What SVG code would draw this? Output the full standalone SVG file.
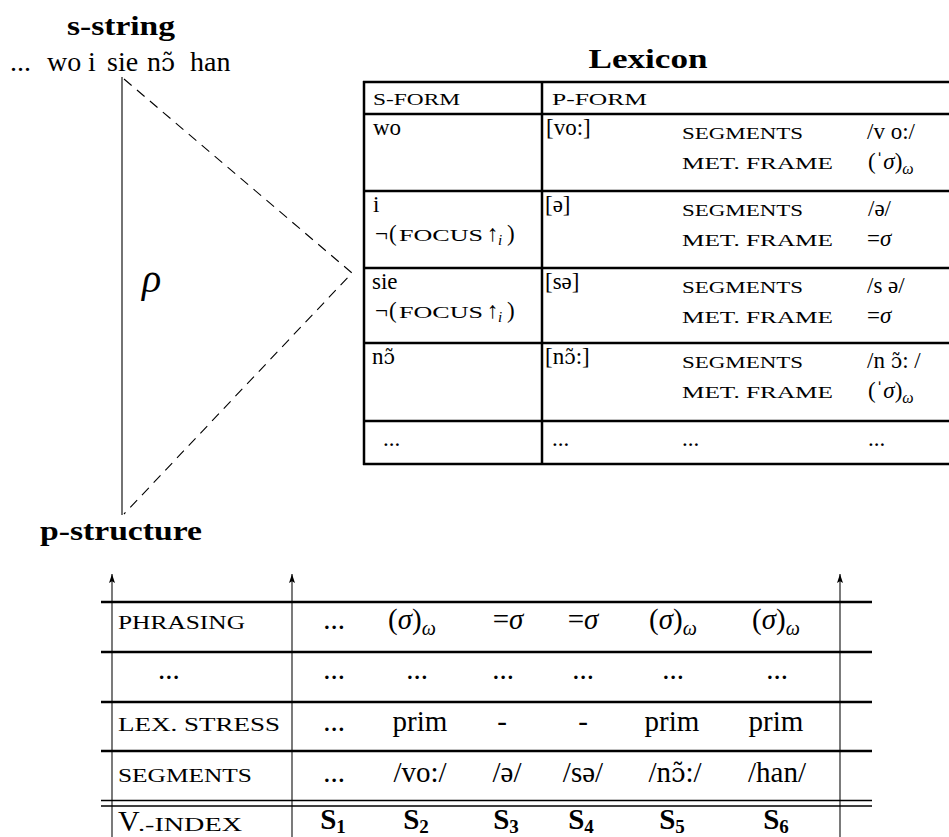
<svg xmlns="http://www.w3.org/2000/svg" width="949" height="837" viewBox="0 0 949 837">
<style>
text { font-family: "Liberation Serif", "DejaVu Serif", serif; fill: #000; }
.dv { font-family: "DejaVu Serif", serif; }
.bd { font-weight: bold; }
.it { font-style: italic; }
.lx { font-size: 23px; }
.lsc { font-size: 17px; }
.bt { font-size: 29px; }
.bsc { font-size: 19px; }
.thick { stroke: #000; stroke-width: 2.5; fill: none; }
.dbl { stroke: #000; stroke-width: 1.7; fill: none; }
.solid { stroke: #000; stroke-width: 1.1; fill: none; }
.dash { stroke: #000; stroke-width: 1.1; stroke-dasharray: 10 7; fill: none; }
.arrow { stroke: #222; stroke-width: 1.2; fill: none; marker-end: url(#ah); }
</style>
<defs>
<marker id="ah" viewBox="0 0 9 6" refX="9" refY="3" markerWidth="9" markerHeight="6" orient="auto" markerUnits="userSpaceOnUse">
<path d="M0,0 L9,3 L0,6 L1.8,3 z" fill="#000"/>
</marker>
</defs>
<rect x="0" y="0" width="949" height="837" fill="#fff"/>

<g id="s-string">
<text class="bd" x="67" y="35" font-size="28" textLength="108" lengthAdjust="spacingAndGlyphs">s-string</text>
<text font-size="28" y="71"><tspan x="10">...</tspan><tspan x="47">wo</tspan><tspan x="88">i</tspan><tspan x="107">sie</tspan><tspan x="147">n<tspan class="dv" font-size="25">ɔ̃</tspan></tspan><tspan x="190">han</tspan></text>
</g>

<g id="rho">
<text class="it" x="142" y="292" font-size="40">ρ</text>
</g>

<g id="p-structure">
<text class="bd" x="40" y="540" font-size="28" textLength="162" lengthAdjust="spacingAndGlyphs">p-structure</text>
</g>

<g id="connectors">
<line class="solid" x1="122" y1="77" x2="122" y2="515"/>
<polyline class="dash" points="124,79 352,273 124,514"/>
<line class="arrow" x1="112" y1="837" x2="112" y2="574"/>
<line class="arrow" x1="292" y1="837" x2="292" y2="574"/>
<line class="arrow" x1="840" y1="837" x2="840" y2="574"/>
</g>

<g id="lexicon">
<text class="bd" x="648" y="68" font-size="28" text-anchor="middle" textLength="119" lengthAdjust="spacingAndGlyphs">Lexicon</text>
<g class="thick">
<line x1="363" y1="82" x2="949" y2="82"/>
<line x1="363" y1="114" x2="949" y2="114"/>
<line x1="363" y1="191" x2="949" y2="191"/>
<line x1="363" y1="268" x2="949" y2="268"/>
<line x1="363" y1="343" x2="949" y2="343"/>
<line x1="363" y1="421" x2="949" y2="421"/>
<line x1="363" y1="464" x2="949" y2="464"/>
<line x1="364" y1="81" x2="364" y2="465"/>
<line x1="542" y1="81" x2="542" y2="465"/>
</g>
<text class="lsc" x="373" y="105" textLength="87" lengthAdjust="spacingAndGlyphs">S-FORM</text>
<text class="lsc" x="552" y="105" textLength="95" lengthAdjust="spacingAndGlyphs">P-FORM</text>

<text class="lx" x="373" y="135">wo</text>
<text class="lx" x="546" y="135">[vo:]</text>
<text class="lsc" x="682" y="139" textLength="121" lengthAdjust="spacingAndGlyphs">SEGMENTS</text>
<text class="lx" x="867" y="139">/v o:/</text>
<text class="lsc" x="682" y="169" textLength="151" lengthAdjust="spacingAndGlyphs">MET. FRAME</text>
<text class="lx" x="868" y="169">(ˈ<tspan class="it">σ</tspan>)<tspan class="it" font-size="16" dy="5">ω</tspan></text>

<text class="lx" x="373" y="212">i</text>
<text class="lx" x="545" y="212">[ə]</text>
<text class="lx" y="241"><tspan x="375">¬</tspan><tspan x="389">(</tspan></text>
<text class="lsc" x="399" y="241" textLength="84" lengthAdjust="spacingAndGlyphs">FOCUS</text>
<text class="lx" y="241"><tspan x="487">↑</tspan><tspan x="498" class="it" font-size="15" dy="4">i</tspan><tspan x="507" dy="-4">)</tspan></text>
<text class="lsc" x="682" y="216" textLength="121" lengthAdjust="spacingAndGlyphs">SEGMENTS</text>
<text class="lx" x="868" y="216">/ə/</text>
<text class="lsc" x="682" y="246" textLength="151" lengthAdjust="spacingAndGlyphs">MET. FRAME</text>
<text class="lx" x="867" y="246">=<tspan class="it">σ</tspan></text>

<text class="lx" x="372" y="289">sie</text>
<text class="lx" x="545" y="289">[sə]</text>
<text class="lx" y="318"><tspan x="375">¬</tspan><tspan x="389">(</tspan></text>
<text class="lsc" x="399" y="318" textLength="84" lengthAdjust="spacingAndGlyphs">FOCUS</text>
<text class="lx" y="318"><tspan x="487">↑</tspan><tspan x="498" class="it" font-size="15" dy="4">i</tspan><tspan x="507" dy="-4">)</tspan></text>
<text class="lsc" x="682" y="293" textLength="121" lengthAdjust="spacingAndGlyphs">SEGMENTS</text>
<text class="lx" x="867" y="293">/s ə/</text>
<text class="lsc" x="682" y="323" textLength="151" lengthAdjust="spacingAndGlyphs">MET. FRAME</text>
<text class="lx" x="867" y="323">=<tspan class="it">σ</tspan></text>

<text class="lx" x="372" y="364">n<tspan class="dv" font-size="20.5">ɔ̃</tspan></text>
<text class="lx" x="545" y="364">[n<tspan class="dv" font-size="20.5">ɔ̃</tspan>:]</text>
<text class="lsc" x="682" y="368" textLength="121" lengthAdjust="spacingAndGlyphs">SEGMENTS</text>
<text class="lx" x="867" y="368">/n <tspan class="dv" font-size="20.5">ɔ̃</tspan>: /</text>
<text class="lsc" x="682" y="398" textLength="151" lengthAdjust="spacingAndGlyphs">MET. FRAME</text>
<text class="lx" x="868" y="398">(ˈ<tspan class="it">σ</tspan>)<tspan class="it" font-size="16" dy="5">ω</tspan></text>

<text class="lx" x="383" y="446">...</text>
<text class="lx" x="552" y="446">...</text>
<text class="lx" x="682" y="446">...</text>
<text class="lx" x="868" y="446">...</text>
</g>

<g id="p-structure-table">
<g class="thick">
<line x1="101" y1="602" x2="872" y2="602"/>
<line x1="101" y1="652" x2="872" y2="652"/>
<line x1="101" y1="702" x2="872" y2="702"/>
<line x1="101" y1="751" x2="872" y2="751"/>
</g>
<line class="dbl" x1="101" y1="800.5" x2="872" y2="800.5"/>
<line class="dbl" x1="101" y1="806" x2="872" y2="806"/>

<text class="bsc" x="118" y="629" textLength="127" lengthAdjust="spacingAndGlyphs">PHRASING</text>
<text class="bt" x="158" y="679">...</text>
<text class="bsc" x="118" y="731" textLength="162" lengthAdjust="spacingAndGlyphs">LEX. STRESS</text>
<text class="bsc" x="118" y="782" textLength="134" lengthAdjust="spacingAndGlyphs">SEGMENTS</text>
<text x="118" y="831" font-size="30">V</text>
<text class="bsc" x="138" y="831" textLength="104" lengthAdjust="spacingAndGlyphs">.-INDEX</text>

<g class="bt" text-anchor="middle">
<text x="334" y="629">...</text>
<text x="412" y="629">(<tspan class="it">σ</tspan>)<tspan class="it" font-size="20" dy="6">ω</tspan></text>
<text x="508" y="629">=<tspan class="it">σ</tspan></text>
<text x="583" y="629">=<tspan class="it">σ</tspan></text>
<text x="673" y="629">(<tspan class="it">σ</tspan>)<tspan class="it" font-size="20" dy="6">ω</tspan></text>
<text x="776" y="629">(<tspan class="it">σ</tspan>)<tspan class="it" font-size="20" dy="6">ω</tspan></text>

<text x="334" y="679">...</text>
<text x="417" y="679">...</text>
<text x="503" y="679">...</text>
<text x="583" y="679">...</text>
<text x="673" y="679">...</text>
<text x="777" y="679">...</text>

<text x="334" y="731">...</text>
<text x="420" y="731">prim</text>
<text x="502" y="731">-</text>
<text x="583" y="731">-</text>
<text x="672" y="731">prim</text>
<text x="776" y="731">prim</text>

<text x="334" y="782">...</text>
<text x="420" y="782">/vo:/</text>
<text x="507" y="782">/ə/</text>
<text x="583" y="782">/sə/</text>
<text x="675" y="782">/n<tspan class="dv" font-size="26">ɔ̃</tspan>:/</text>
<text x="777" y="782">/han/</text>

<text class="bd" x="333" y="829">S<tspan font-size="19" dy="4">1</tspan></text>
<text class="bd" x="416" y="829">S<tspan font-size="19" dy="4">2</tspan></text>
<text class="bd" x="506" y="829">S<tspan font-size="19" dy="4">3</tspan></text>
<text class="bd" x="581" y="829">S<tspan font-size="19" dy="4">4</tspan></text>
<text class="bd" x="672" y="829">S<tspan font-size="19" dy="4">5</tspan></text>
<text class="bd" x="776" y="829">S<tspan font-size="19" dy="4">6</tspan></text>
</g>
</g>
</svg>
